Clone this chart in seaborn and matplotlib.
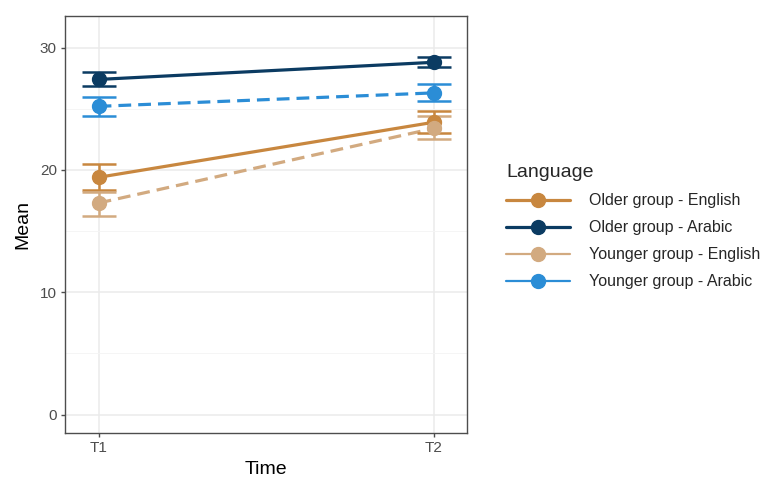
import matplotlib
matplotlib.use("Agg")
import matplotlib.pyplot as plt
import seaborn as sns
import pandas as pd
import numpy as np
from matplotlib.lines import Line2D

groups = ["Older group - English", "Older group - Arabic", "Younger group - English", "Younger group - Arabic"]
times = ["T1", "T2"]
means = {
    "Older group - English": [19.4, 23.9],
    "Older group - Arabic": [27.4, 28.8],
    "Younger group - English": [17.3, 23.4],
    "Younger group - Arabic": [25.2, 26.3],
}
lower = {
    "Older group - English": [18.4, 23.0],
    "Older group - Arabic": [26.9, 28.4],
    "Younger group - English": [16.2, 22.5],
    "Younger group - Arabic": [24.4, 25.6],
}
upper = {
    "Older group - English": [20.5, 24.8],
    "Older group - Arabic": [28.0, 29.2],
    "Younger group - English": [18.2, 24.4],
    "Younger group - Arabic": [26.0, 27.0],
}
colors = ["#C8873F", "#0B3B62", "#D2AA80", "#2B8DD6"]
dashed = [False, False, True, True]

rows = []
for g in groups:
    for i, t in enumerate(times):
        rows.append({"Language": g, "Time": t, "x": i + 1, "Mean": means[g][i],
                     "lo": lower[g][i], "hi": upper[g][i]})
df = pd.DataFrame(rows)

sns.set_theme(style="whitegrid")
plt.rcParams["font.family"] = ["Liberation Sans", "DejaVu Sans"]

fig = plt.figure(figsize=(7.66, 4.79), dpi=100)
ax = fig.add_axes([0.085, 0.096, 0.525, 0.871])

palette = dict(zip(groups, colors))
dash_map = {g: ((4, 2.2) if d else "") for g, d in zip(groups, dashed)}

sns.lineplot(data=df, x="x", y="Mean", hue="Language", style="Language",
             palette=palette, dashes=dash_map, hue_order=groups, style_order=groups,
             linewidth=2.3, ax=ax, legend=False, zorder=3)

for g, c in zip(groups, colors):
    sub = df[df["Language"] == g]
    ax.errorbar(sub["x"], sub["Mean"],
                yerr=[sub["Mean"] - sub["lo"], sub["hi"] - sub["Mean"]],
                fmt="o", color=c, markersize=10, capsize=12, elinewidth=1.8,
                capthick=1.8, zorder=4)

ax.set_xlim(0.9, 2.1)
ax.set_ylim(-1.5, 32.6)
ax.set_xticks([1, 2])
ax.set_xticklabels(times)
ax.set_yticks([0, 10, 20, 30])
ax.set_yticks([5, 15, 25], minor=True)
ax.grid(True, which="major", color="#EBEBEB", linewidth=1.1)
ax.grid(True, which="minor", color="#F4F4F4", linewidth=0.6)
ax.set_facecolor("white")
for s in ax.spines.values():
    s.set_color("#4D4D4D")
    s.set_linewidth(1.0)
ax.tick_params(axis="both", which="major", length=3, width=1, color="#4D4D4D",
               labelsize=11, labelcolor="#4D4D4D", pad=3, bottom=True, left=True)
ax.tick_params(axis="both", which="minor", length=0)
ax.set_xlabel("Time", fontsize=14, color="black", labelpad=4)
ax.set_ylabel("Mean", fontsize=14, color="black", labelpad=6)

handles = [Line2D([0], [0], color=c, lw=(1.6 if d else 2.3), linestyle="-",
                  marker="o", markersize=10) for c, d in zip(colors, dashed)]
leg = fig.legend(handles, groups, title="Language", loc="upper left",
                 bbox_to_anchor=(0.661, 0.657), frameon=False, fontsize=11.5,
                 title_fontsize=14, handlelength=4.0, handletextpad=1.2,
                 labelspacing=0.75, borderaxespad=0, borderpad=0)
leg._legend_box.align = "left"

fig.savefig("out.png", dpi=100)
